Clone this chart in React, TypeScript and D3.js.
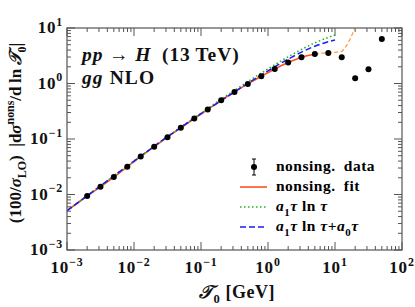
import * as React from "react";
import * as d3 from "d3";

// nonsingular data points (tau0 in GeV)
const dataX = [0.002, 0.00316, 0.005, 0.00794, 0.0126, 0.02, 0.0316, 0.05, 0.0794, 0.126, 0.2, 0.316, 0.5, 0.794, 1.26, 2, 3.16, 5, 7.94, 12.6, 20, 31.6, 50];
const dataY = [0.0094, 0.0138, 0.0206, 0.0316, 0.0484, 0.0722, 0.108, 0.159, 0.234, 0.34, 0.5, 0.706, 0.983, 1.35, 1.83, 2.38, 2.97, 3.4, 3.55, 2.97, 1.24, 1.8, 6.34];

// nonsing. fit (solid part)
const fitX = [0.001, 0.002, 0.00316, 0.005, 0.00794, 0.0126, 0.02, 0.0316, 0.05, 0.0794, 0.126, 0.2, 0.316, 0.5, 0.794, 1.26, 2, 3.16, 5];
const fitY = [0.0051, 0.0094, 0.0138, 0.0206, 0.0316, 0.0484, 0.0722, 0.108, 0.159, 0.234, 0.34, 0.5, 0.706, 0.983, 1.35, 1.83, 2.38, 2.97, 3.4];
// fit beyond fit range (dashed)
const extX = [5, 7.94, 10, 12, 13.5, 15, 16.5, 18, 19.5, 21];
const extY = [3.4, 3.6, 3.65, 3.7, 4.1, 4.9, 6.0, 7.6, 9.5, 12];

// a1 tau ln tau  and  a1 tau ln tau + a0 tau
const lnX = [0.001, 0.002, 0.005, 0.01, 0.02, 0.05, 0.1, 0.2, 0.5, 1, 2, 5, 10];
const lnY = [0.0051, 0.0095, 0.0217, 0.04, 0.074, 0.163, 0.292, 0.52, 1.08, 1.83, 3.03, 5.4, 7.5];
const ln0Y = [0.0051, 0.0095, 0.0216, 0.04, 0.074, 0.162, 0.286, 0.49, 1.01, 1.69, 2.75, 4.7, 6.1];

const xDecades = [-3, -2, -1, 0, 1, 2];
const yDecades = [-3, -2, -1, 0, 1];

type Seg = { t: string; it?: boolean; sh?: "sub" | "sup" };

function mathText(sel: any, segs: Seg[], size: number) {
  let off = 0;
  segs.forEach((s) => {
    const target = s.sh === "sub" ? size * 0.3 : s.sh === "sup" ? -size * 0.42 : 0;
    sel.append("tspan")
      .attr("dy", target - off)
      .attr("font-size", s.sh ? size * 0.7 : size)
      .attr("font-style", s.it ? "italic" : "normal")
      .text(s.t);
    off = target;
  });
}

function drawChart(svgEl: SVGSVGElement) {
  const width = 415, height = 307;
  const m = { top: 28, right: 13, bottom: 57, left: 67 };
  const svg = d3.select(svgEl);
  svg.selectAll("*").remove();
  svg.attr("width", width).attr("height", height)
    .style("font-family", "'Liberation Serif', serif").attr("font-weight", "bold");

  const x = d3.scaleLog().domain([1e-3, 1e2]).range([m.left, width - m.right]);
  const y = d3.scaleLog().domain([1e-3, 1e1]).range([height - m.bottom, m.top]);
  const x0 = m.left, x1 = width - m.right, y0 = height - m.bottom, y1 = m.top;

  svg.append("clipPath").attr("id", "plotclip").append("rect")
    .attr("x", x0).attr("y", y1).attr("width", x1 - x0).attr("height", y0 - y1);

  // ticks
  const axisCol = "#555";
  const tk = svg.append("g").attr("stroke", axisCol).attr("stroke-width", 1);
  xDecades.forEach((d) => {
    for (let k = 1; k <= 9; k++) {
      const v = k * Math.pow(10, d);
      if (v > 1e2 + 1e-9) break;
      const px = x(v), len = k === 1 ? 8 : 4;
      tk.append("line").attr("x1", px).attr("x2", px).attr("y1", y0).attr("y2", y0 - len);
      tk.append("line").attr("x1", px).attr("x2", px).attr("y1", y1).attr("y2", y1 + len);
    }
  });
  yDecades.forEach((d) => {
    for (let k = 1; k <= 9; k++) {
      const v = k * Math.pow(10, d);
      if (v > 1e1 + 1e-9) break;
      const py = y(v), len = k === 1 ? 8 : 4;
      tk.append("line").attr("y1", py).attr("y2", py).attr("x1", x0).attr("x2", x0 + len);
      tk.append("line").attr("y1", py).attr("y2", py).attr("x1", x1).attr("x2", x1 - len);
    }
  });

  // tick labels
  xDecades.forEach((d) => {
    const t = svg.append("text").attr("x", x(Math.pow(10, d))).attr("y", 273)
      .attr("text-anchor", "middle").attr("fill", "#111").attr("letter-spacing", 0.8);
    mathText(t, [{ t: "10" }, { t: d < 0 ? "\u2212" + -d : String(d), sh: "sup" }], 17);
  });
  yDecades.forEach((d) => {
    const t = svg.append("text").attr("x", 63).attr("y", y(Math.pow(10, d)) + 5)
      .attr("text-anchor", "end").attr("fill", "#111").attr("letter-spacing", 0.8);
    mathText(t, [{ t: "10" }, { t: d < 0 ? "\u2212" + -d : String(d), sh: "sup" }], 17);
  });

  // curves
  const line = (xs: number[], ys: number[]) =>
    d3.line<number>().x((_, i) => x(xs[i])).y((_, i) => y(ys[i])).curve(d3.curveMonotoneX)(xs.map((_, i) => i));
  const plot = svg.append("g").attr("clip-path", "url(#plotclip)").attr("fill", "none");
  plot.append("path").attr("d", line(extX, extY)).attr("stroke", "#ff9a33")
    .attr("stroke-width", 1.2).attr("stroke-dasharray", "4,2.5");
  plot.append("path").attr("d", line(fitX, fitY)).attr("stroke", "#ff4f1f").attr("stroke-width", 1.6);
  plot.append("path").attr("d", line(lnX, lnY)).attr("stroke", "#1fb51f")
    .attr("stroke-width", 1.6).attr("stroke-dasharray", "1.5,2.5");
  plot.append("path").attr("d", line(lnX, ln0Y)).attr("stroke", "#1a1aff")
    .attr("stroke-width", 1.5).attr("stroke-dasharray", "6,3");
  plot.selectAll("circle").data(dataX).enter().append("circle")
    .attr("cx", (d) => x(d)).attr("cy", (_, i) => y(dataY[i])).attr("r", 3).attr("fill", "#000");

  // frame
  svg.append("rect").attr("x", x0).attr("y", y1).attr("width", x1 - x0).attr("height", y0 - y1)
    .attr("fill", "none").attr("stroke", axisCol).attr("stroke-width", 1.2);

  // annotation
  const a1 = svg.append("text").attr("x", 82).attr("y", 61).attr("fill", "#111").attr("letter-spacing", 0.9);
  mathText(a1, [{ t: "pp", it: true }, { t: " \u2192 " }, { t: "H", it: true }, { t: "\u2002(13\u2009TeV)" }], 19.5);
  const a2 = svg.append("text").attr("x", 82).attr("y", 84).attr("fill", "#111").attr("letter-spacing", 1.1);
  mathText(a2, [{ t: "gg", it: true }, { t: " NLO" }], 19.5);

  // legend
  const lg = svg.append("g").attr("letter-spacing", 0.5);
  const rows = [167, 187, 207, 227];
  const lx0 = 240, lx1 = 267, tx = 276;
  lg.append("line").attr("x1", 254).attr("x2", 254).attr("y1", rows[0] - 8).attr("y2", rows[0] + 8).attr("stroke", "#000");
  lg.append("line").attr("x1", 252).attr("x2", 256).attr("y1", rows[0] - 8).attr("y2", rows[0] - 8).attr("stroke", "#000");
  lg.append("line").attr("x1", 252).attr("x2", 256).attr("y1", rows[0] + 8).attr("y2", rows[0] + 8).attr("stroke", "#000");
  lg.append("circle").attr("cx", 254).attr("cy", rows[0]).attr("r", 3).attr("fill", "#000");
  lg.append("line").attr("x1", lx0).attr("x2", lx1).attr("y1", rows[1]).attr("y2", rows[1]).attr("stroke", "#ff4f1f").attr("stroke-width", 1.6);
  lg.append("line").attr("x1", lx0).attr("x2", lx1).attr("y1", rows[2]).attr("y2", rows[2]).attr("stroke", "#1fb51f").attr("stroke-width", 1.6).attr("stroke-dasharray", "1.5,2.5");
  lg.append("line").attr("x1", lx0).attr("x2", lx1).attr("y1", rows[3]).attr("y2", rows[3]).attr("stroke", "#1a1aff").attr("stroke-width", 1.5).attr("stroke-dasharray", "6,3");
  const ls = 15.5;
  mathText(lg.append("text").attr("x", tx).attr("y", rows[0] + 4), [{ t: "nonsing.\u2002data" }], ls);
  mathText(lg.append("text").attr("x", tx).attr("y", rows[1] + 4), [{ t: "nonsing.\u2002fit" }], ls);
  mathText(lg.append("text").attr("x", tx).attr("y", rows[2] + 4),
    [{ t: "a", it: true }, { t: "1", sh: "sub" }, { t: "\u03c4 ", it: true }, { t: "ln " }, { t: "\u03c4", it: true }], ls);
  mathText(lg.append("text").attr("x", tx).attr("y", rows[3] + 4),
    [{ t: "a", it: true }, { t: "1", sh: "sub" }, { t: "\u03c4 ", it: true }, { t: "ln " }, { t: "\u03c4", it: true },
     { t: "+" }, { t: "a", it: true }, { t: "0", sh: "sub" }, { t: "\u03c4", it: true }], ls);

  // axis titles
  const xt = svg.append("text").attr("x", 237).attr("y", 298).attr("text-anchor", "middle").attr("fill", "#111").attr("letter-spacing", 0.5);
  mathText(xt, [{ t: "\ud835\udcaf", it: true }, { t: "0", sh: "sub" }, { t: " [GeV]" }], 18);
  const yt = svg.append("text").attr("transform", "translate(21,133) rotate(-90)")
    .attr("text-anchor", "middle").attr("fill", "#111");
  mathText(yt, [{ t: "(100/" }, { t: "\u03c3", it: true }, { t: "LO", sh: "sub" }, { t: ")\u2002|d" },
    { t: "\u03c3", it: true }, { t: "nons", sh: "sup" }, { t: "/d\u2009ln\u2009" }, { t: "\ud835\udcaf", it: true },
    { t: "0", sh: "sub" }, { t: "|" }], 17);
}

const App: React.FunctionComponent = () => {
  const svg = React.useRef<SVGSVGElement>(null);
  React.useEffect(() => {
    if (svg.current) drawChart(svg.current);
  }, [svg]);
  return (
    <div id="chart" style={{ position: "absolute", left: 0, top: 0 }}>
      <svg ref={svg} style={{ display: "block" }} />
    </div>
  );
};

export default App;
